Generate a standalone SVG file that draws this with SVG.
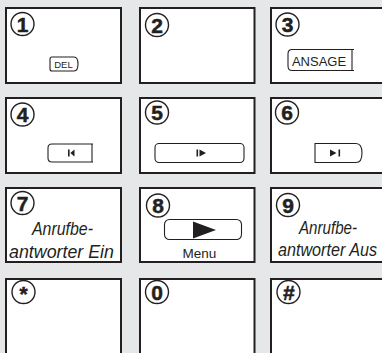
<svg xmlns="http://www.w3.org/2000/svg" width="382" height="353" viewBox="0 0 382 353">
<style>
.key{fill:#fff;stroke:#231f20;stroke-width:2}
.circ{fill:none;stroke:#231f20;stroke-width:1.4}
.num{font-family:"Liberation Sans",Arial,sans-serif;font-weight:bold;font-size:21px;fill:#231f20;stroke:#231f20;stroke-width:0.5;text-anchor:middle}
.btn{fill:#fff;stroke:#231f20;stroke-width:1.1}
.lbl{font-family:"Liberation Sans",Arial,sans-serif;fill:#231f20}
.it{font-family:"Liberation Sans",Arial,sans-serif;font-style:italic;font-size:17.5px;fill:#231f20}
.sym{fill:#231f20}
</style>
<rect width="382" height="353" fill="#e6e7e8"/>
<g id="key1">
<rect class="key" x="6" y="8" width="115" height="75"/>
<circle class="circ" cx="22.5" cy="24" r="11.5"/><text class="num" x="22.5" y="31.5">1</text>
<path class="btn" d="M52,57 H74 Q78,57 78,64 Q78,71 74,71 H52 Q50,71 50,69 V59 Q50,57 52,57 Z"/>
<text class="lbl" x="63.5" y="67.5" font-size="9.5" text-anchor="middle">DEL</text>
</g>
<g id="key2">
<rect class="key" x="140" y="8" width="114.5" height="75"/>
<circle class="circ" cx="157" cy="25" r="11.5"/><text class="num" x="157" y="32.5">2</text>
</g>
<g id="key3">
<rect class="key" x="271" y="8" width="125" height="75"/>
<circle class="circ" cx="287.5" cy="24.5" r="11.5"/><text class="num" x="287.5" y="32">3</text>
<path class="btn" d="M292,49.5 H354 M292,70.5 H354 M352,49.5 V70.5 M292,49.5 Q288,49.5 288,54 V66 Q288,70.5 292,70.5"/>
<text class="lbl" x="319" y="65.5" font-size="13" text-anchor="middle">ANSAGE</text>
</g>
<g id="key4">
<rect class="key" x="6" y="98" width="115" height="75"/>
<circle class="circ" cx="22.5" cy="114.5" r="11.5"/><text class="num" x="22.5" y="122">4</text>
<path class="btn" d="M52,144 H93 M93,162 H52 Q48,162 48,158 V148 Q48,144 52,144 M92,144 V162"/>
<rect class="sym" x="68" y="149.5" width="1.6" height="7"/><path class="sym" d="M74.5,149.5 V156.5 L70.3,153 Z"/>
</g>
<g id="key5">
<rect class="key" x="140" y="98" width="114.5" height="75"/>
<circle class="circ" cx="157" cy="112.5" r="11.5"/><text class="num" x="157" y="120">5</text>
<rect class="btn" x="155" y="143.5" width="89" height="19" rx="4"/>
<rect class="sym" x="196.5" y="149.5" width="1.6" height="7"/><path class="sym" d="M199.5,149.5 V156.5 L206,153 Z"/>
</g>
<g id="key6">
<rect class="key" x="271" y="98" width="125" height="75"/>
<circle class="circ" cx="287" cy="112.5" r="11.5"/><text class="num" x="287" y="120">6</text>
<path class="btn" d="M315,143.5 H356 Q362,143.5 362,153 Q362,162.5 356,162.5 H315 Z"/>
<path class="sym" d="M330,149.5 V156.5 L336.5,153 Z"/><rect class="sym" x="338.5" y="149.5" width="1.6" height="7"/>
</g>
<g id="key7">
<rect class="key" x="6" y="188" width="115" height="74"/>
<circle class="circ" cx="22.5" cy="203" r="11.5"/><text class="num" x="22.5" y="210.5">7</text>
<text class="it" x="32" y="235" textLength="61" lengthAdjust="spacingAndGlyphs">Anrufbe-</text>
<text class="it" x="9" y="257.5" textLength="105" lengthAdjust="spacingAndGlyphs">antworter Ein</text>
</g>
<g id="key8">
<rect class="key" x="140" y="188" width="114.5" height="74"/>
<circle class="circ" cx="158" cy="205.5" r="11.5"/><text class="num" x="158" y="213">8</text>
<rect class="btn" x="164.5" y="219.5" width="77" height="20" rx="5"/>
<path class="sym" d="M193,221.5 V238.5 L216,230 Z"/>
<text class="lbl" x="199.5" y="258" font-size="13.5" text-anchor="middle">Menu</text>
</g>
<g id="key9">
<rect class="key" x="271" y="188" width="125" height="74"/>
<circle class="circ" cx="288" cy="205" r="11.5"/><text class="num" x="288" y="212.5">9</text>
<text class="it" x="299" y="234" textLength="58" lengthAdjust="spacingAndGlyphs">Anrufbe-</text>
<text class="it" x="278" y="256" textLength="99" lengthAdjust="spacingAndGlyphs">antworter Aus</text>
</g>
<g id="keystar">
<rect class="key" x="6" y="279" width="115" height="85"/>
<circle class="circ" cx="23.5" cy="292" r="11.5"/><text class="num" x="23.5" y="301" font-size="18">*</text>
</g>
<g id="key0">
<rect class="key" x="140" y="279" width="114.5" height="85"/>
<circle class="circ" cx="157" cy="292" r="11.5"/><text class="num" x="157" y="299.5">0</text>
</g>
<g id="keyhash">
<rect class="key" x="271" y="279" width="125" height="85"/>
<circle class="circ" cx="288.5" cy="292" r="11.5"/><text class="num" x="288.5" y="299.5" font-style="italic">#</text>
</g>
<g id="connectors"/>
</svg>
